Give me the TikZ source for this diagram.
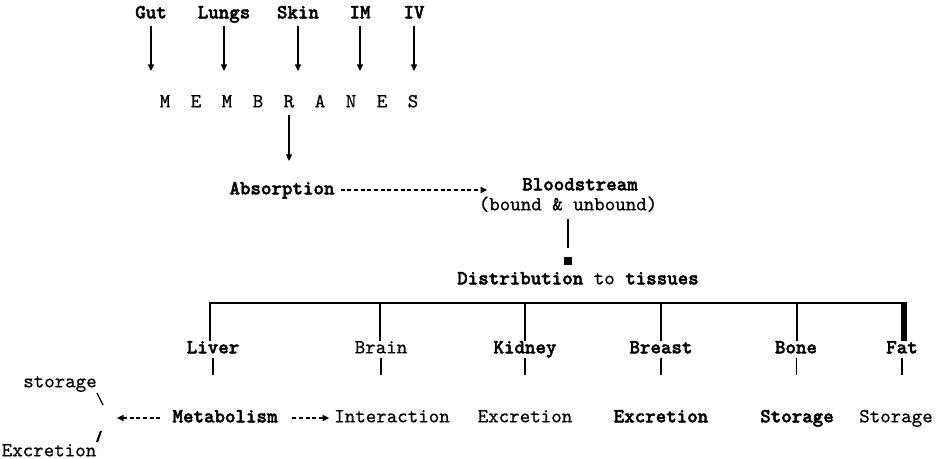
\documentclass[tikz,border=0pt]{standalone}
\usepackage{fontspec}
\newfontfamily\heavytt{lmmonolt10-bold.otf}[FakeBold=2]
\newfontfamily\plaintt{lmmono10-regular.otf}[FakeBold=0.6]
\usetikzlibrary{arrows.meta, positioning}

\tikzset{
  txt/.style={font=\fontsize{15}{17}\selectfont\plaintt, inner sep=0pt, text height=9pt, text depth=2.5pt},
  btxt/.style={txt, font=\fontsize{15}{17}\selectfont\heavytt},
  arr/.style={-{Triangle[length=5pt, width=4.5pt]}},
  dasharr/.style={arr, line width=1.3pt, dash pattern=on 3pt off 2pt}
}

\begin{document}
\begin{tikzpicture}[x=0.75pt, y=-0.75pt]
\useasboundingbox (0,0) rectangle (945,459);

% Routes of entry
\foreach \nm/\lab/\xx in {gut/Gut/151, lungs/Lungs/224, skin/Skin/298, im/IM/360, iv/IV/414} {
  \node[btxt] (\nm) at (\xx,14) {\lab};
  \coordinate (\nm-end) at (\xx,71);
  \draw[arr, line width=1.6pt, shorten <=3pt] (\nm) -- (\nm-end);
}

% Membranes
\foreach \ch [count=\i] in {M,E,M,B,R,A,N,E,S}
  \node[txt] (m\i) at ({134+31*\i},103) {\ch};
\coordinate (m5-end) at (289,161);
\draw[arr, line width=0.8pt, shorten <=3pt] (m5) -- (m5-end);

% Absorption and bloodstream
\node[btxt] (absorption) at (282,190) {Absorption};
\node[btxt] (blood) at (580,186) {Bloodstream};
\node[txt] (bound) at (568,206) {(bound \& unbound)};
\draw[dasharr, shorten <=4.5pt, shorten >=26pt] (absorption) -- (absorption -| blood.west);

\coordinate (stem-end) at (568,248);
\draw[line width=1.6pt, shorten <=4pt] (bound) -- (stem-end);
\node[fill, inner sep=0pt, minimum size=5.5pt] (knot) at (568,261) {};
\node[txt] (distr) at (578,280) {{\heavytt Distribution} to {\heavytt tissues}};

% Tissues
\coordinate (bus-l) at (209,303);
\coordinate (bus-r) at (907,303);
\draw[line width=2.2pt] (bus-l) -- (bus-r);

\foreach \nm/\lab/\xx/\drop/\sty/\lw/\sw in {liver/Liver/213/210/btxt/1.3pt/1.8pt, brain/Brain/381/380/txt/1.3pt/1.8pt,
    kidney/Kidney/525/525/btxt/1.3pt/1.8pt, breast/Breast/661/661/btxt/1.3pt/1.8pt,
    bone/Bone/796/797/btxt/1.3pt/0.7pt, fat/Fat/902/904/btxt/4.5pt/1.8pt} {
  \node[\sty] (\nm) at (\xx,349) {\lab};
  \coordinate (\nm-top) at (\drop,302);
  \coordinate (\nm-stub) at (\xx,375);
  \draw[line width=\lw] (\nm-top) -- (\nm-top |- \nm.north);
  \draw[line width=\sw, shorten <=1pt] (\nm) -- (\nm-stub);
}

% Fates
\node[btxt] (metab) at (225,418) {Metabolism};
\node[txt] (interact) at (392,418) {Interaction};
\node[txt] (kexcr) at (525,418) {Excretion};
\node[btxt] (bexcr) at (661,418) {Excretion};
\node[btxt] (bstore) at (797,418) {Storage};
\node[txt] (fstore) at (896,418) {Storage};
\node[txt] (lstore) at (60,383) {storage};
\node[txt] (lexcr) at (49,452) {Excretion};

\coordinate (metab-l) at (117,418);
\draw[dasharr, shorten <=9pt] (metab) -- (metab-l);
\draw[dasharr, shorten <=11pt, shorten >=3.5pt] (metab) -- (interact);

\coordinate (sl1a) at (97,393);
\coordinate (sl1b) at (103,405);
\coordinate (sl2a) at (101,431);
\coordinate (sl2b) at (97,442);
\draw[line width=1pt] (sl1a) -- (sl1b);
\draw[line width=1.5pt] (sl2a) -- (sl2b);

\end{tikzpicture}
\end{document}
